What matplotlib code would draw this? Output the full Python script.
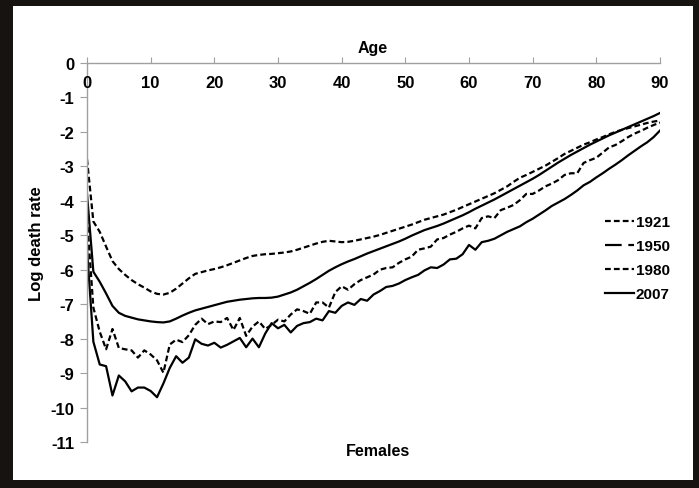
import numpy as np
import matplotlib.pyplot as plt
from matplotlib.lines import Line2D
from matplotlib.patches import Rectangle

plt.rcParams['font.family'] = ['Liberation Sans', 'DejaVu Sans']

ages = np.arange(0, 91)

# log death rates, females
rate_1921 = [-2.79, -4.6, -4.9, -5.33, -5.75, -5.98, -6.15, -6.3, -6.42, -6.52,
             -6.63, -6.7, -6.72, -6.67, -6.55, -6.4, -6.25, -6.12, -6.07, -6.02,
             -5.98, -5.93, -5.87, -5.8, -5.73, -5.66, -5.6, -5.57, -5.55, -5.54,
             -5.52, -5.5, -5.47, -5.42, -5.36, -5.3, -5.24, -5.19, -5.16, -5.18,
             -5.2, -5.19, -5.16, -5.12, -5.08, -5.04, -4.99, -4.93, -4.87, -4.81,
             -4.75, -4.69, -4.62, -4.55, -4.5, -4.45, -4.4, -4.33, -4.26, -4.18,
             -4.1, -4.02, -3.94, -3.86, -3.78, -3.68, -3.58, -3.45, -3.33, -3.25,
             -3.16, -3.07, -2.98, -2.87, -2.76, -2.64, -2.55, -2.46, -2.37, -2.3,
             -2.22, -2.15, -2.07, -2.0, -1.94, -1.89, -1.84, -1.79, -1.74, -1.7,
             -1.67]
rate_1950 = [-3.8, -6.06, -6.35, -6.69, -7.05, -7.25, -7.34, -7.39, -7.44, -7.47,
             -7.5, -7.52, -7.53, -7.5, -7.42, -7.33, -7.25, -7.18, -7.13, -7.08,
             -7.03, -6.98, -6.93, -6.9, -6.87, -6.85, -6.83, -6.82, -6.82, -6.81,
             -6.78, -6.72, -6.66, -6.58, -6.48, -6.38, -6.27, -6.15, -6.03, -5.93,
             -5.84, -5.76, -5.69, -5.61, -5.53, -5.46, -5.39, -5.32, -5.25, -5.18,
             -5.1, -5.01, -4.93, -4.85, -4.79, -4.73, -4.66, -4.58, -4.5, -4.42,
             -4.33, -4.23, -4.14, -4.05, -3.96, -3.86, -3.76, -3.66, -3.56, -3.46,
             -3.36, -3.25, -3.13, -3.01, -2.89, -2.78, -2.67, -2.57, -2.47, -2.37,
             -2.28, -2.19, -2.1, -2.02, -1.94, -1.86, -1.78, -1.7, -1.62, -1.54,
             -1.45]
rate_1980 = [-4.5, -7.1, -7.8, -8.31, -7.72, -8.27, -8.31, -8.34, -8.55, -8.34,
             -8.46, -8.63, -8.99, -8.17, -8.03, -8.1, -7.9, -7.6, -7.42, -7.58,
             -7.5, -7.52, -7.4, -7.75, -7.4, -7.92, -7.65, -7.5, -7.72, -7.6,
             -7.45, -7.5, -7.3, -7.15, -7.2, -7.28, -6.95, -6.95, -7.1, -6.65,
             -6.48, -6.58, -6.42, -6.3, -6.22, -6.14, -6.0, -5.95, -5.93, -5.8,
             -5.7, -5.62, -5.42, -5.38, -5.33, -5.12, -5.08, -4.98, -4.9, -4.8,
             -4.72, -4.8, -4.5, -4.45, -4.5, -4.27, -4.2, -4.12, -3.98, -3.8,
             -3.8, -3.7, -3.58, -3.5, -3.4, -3.25, -3.2, -3.2, -2.9, -2.82,
             -2.75, -2.6, -2.45, -2.38, -2.27, -2.15, -2.05, -1.97, -1.88, -1.8,
             -1.73]
rate_2007 = [-5.4, -8.09, -8.75, -8.8, -9.65, -9.07, -9.24, -9.53, -9.42, -9.42,
             -9.52, -9.7, -9.3, -8.85, -8.51, -8.7, -8.55, -8.02, -8.15, -8.2,
             -8.12, -8.26, -8.18, -8.08, -7.98, -8.25, -8.0, -8.25, -7.85, -7.55,
             -7.7, -7.6, -7.82, -7.63, -7.55, -7.52, -7.42, -7.47, -7.2, -7.25,
             -7.05, -6.95, -7.02, -6.85, -6.9, -6.72, -6.62, -6.5, -6.47, -6.4,
             -6.3, -6.22, -6.15, -6.02, -5.93, -5.95, -5.85, -5.7, -5.68, -5.55,
             -5.28, -5.42, -5.2, -5.16, -5.1, -5.0, -4.9, -4.82, -4.74, -4.62,
             -4.52, -4.4, -4.28, -4.15, -4.05, -3.95, -3.83, -3.7, -3.55, -3.45,
             -3.32, -3.2, -3.07, -2.95, -2.82, -2.68, -2.55, -2.42, -2.3, -2.15,
             -1.96]

x_ticks = list(range(0, 91, 10))
y_ticks = list(range(0, -12, -1))

W, H = 699, 489
fig = plt.figure(figsize=(W / 100, H / 100), dpi=100)
fig.patch.set_facecolor('#171311')
# white panel behind the chart
fig.patches.append(Rectangle((13 / W, 8 / H), 680 / W, 474 / H,
                             transform=fig.transFigure, facecolor='white',
                             edgecolor='none', zorder=-10))

ax = fig.add_axes([87 / W, 1 - 443 / H, 573 / W, 379 / H])
ax.set_facecolor('white')

short_dash = (0, (2.6, 1.4))
ax.plot(ages, rate_1921, color='black', lw=1.6, linestyle=short_dash)
ax.plot(ages, rate_1950, color='black', lw=1.6)
ax.plot(ages, rate_1980, color='black', lw=1.6, linestyle=short_dash)
ax.plot(ages, rate_2007, color='black', lw=1.6)

ax.set_xlim(0, 90)
ax.set_ylim(-11, 0)

# Set plot properties
grey = '#a0a0a0'
for side in ['bottom', 'right']:
    ax.spines[side].set_visible(False)
for side in ['top', 'left']:
    ax.spines[side].set_color(grey)
    ax.spines[side].set_linewidth(1.0)

ax.set_xticks(x_ticks)
ax.xaxis.set_ticks_position('top')
ax.tick_params(axis='x', direction='out', length=4, color=grey,
               labeltop=False, labelbottom=False)
for a in x_ticks:
    ax.text(a, -0.58, str(a), ha='center', va='center', fontsize=12,
            fontweight='bold')

ax.set_yticks(y_ticks)
ax.set_yticklabels([str(v) for v in y_ticks])
ax.tick_params(axis='y', direction='out', length=5, color=grey, pad=4,
               labelsize=12)
for lab in ax.get_yticklabels():
    lab.set_fontweight('bold')

fig.text(373 / W, 1 - 48 / H, 'Age', ha='center', va='center',
         fontsize=11.5, fontweight='bold')
fig.text(378 / W, 1 - 452 / H, 'Females', ha='center', va='center',
         fontsize=11.5, fontweight='bold')
fig.text(37 / W, 1 - 244 / H, 'Log death rate', ha='center', va='center',
         rotation=90, fontsize=12, fontweight='bold')

handles = [Line2D([], [], color='black', lw=1.6, linestyle=short_dash),
           Line2D([], [], color='black', lw=1.6, linestyle=(0, (7.5, 3.0))),
           Line2D([], [], color='black', lw=1.6, linestyle=short_dash),
           Line2D([], [], color='black', lw=1.6)]
leg = ax.legend(handles, ['1921', '1950', '1980', '2007'],
                loc='upper left', bbox_to_anchor=(605 / W, 1 - 216 / H),
                bbox_transform=fig.transFigure, frameon=False,
                handlelength=1.9, handletextpad=0.12, labelspacing=0.66,
                borderpad=0, borderaxespad=0,
                prop={'size': 11, 'weight': 'bold'})

plt.savefig('out.png', dpi=100, facecolor=fig.get_facecolor())
plt.close()
